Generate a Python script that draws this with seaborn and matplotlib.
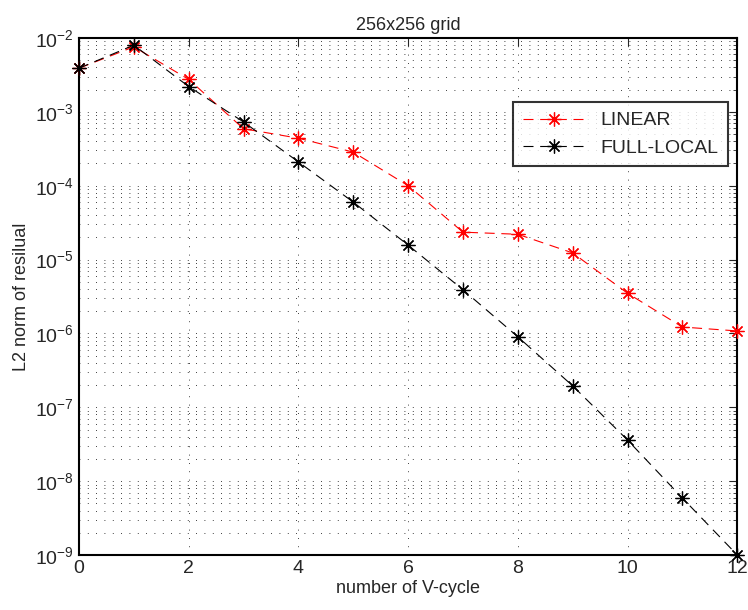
import numpy as np
import pandas as pd
import matplotlib
matplotlib.use("Agg")
import matplotlib.pyplot as plt
import matplotlib.ticker as mticker
import seaborn as sns

# ── Data ──────────────────────────────────────────────────────────────────────
cycles = list(range(13))
linear = [3.9e-3, 7.6e-3, 2.75e-3, 5.9e-4, 4.4e-4, 2.85e-4, 1.0e-4,
          2.35e-5, 2.2e-5, 1.23e-5, 3.5e-6, 1.22e-6, 1.08e-6]
full_local = [3.9e-3, 8.0e-3, 2.2e-3, 7.3e-4, 2.1e-4, 6.0e-5, 1.57e-5,
              3.9e-6, 9.0e-7, 1.95e-7, 3.6e-8, 5.9e-9, 1.0e-9]

df = pd.DataFrame({"cycle": cycles * 2,
                   "resid": linear + full_local,
                   "method": ["LINEAR"] * 13 + ["FULL-LOCAL"] * 13})

sns.set_style("white")
plt.rcParams["font.family"] = ["Liberation Sans", "DejaVu Sans"]
plt.rcParams["mathtext.fontset"] = "custom"
plt.rcParams["mathtext.rm"] = "Liberation Sans"
plt.rcParams["mathtext.it"] = "Liberation Sans"

fig = plt.figure(figsize=(7.48, 6.10), dpi=100)
ax = fig.add_axes([0.1056, 0.0902, 0.880, 0.8475])

star = (8, 2, 0)
dash = (0, (9, 6))
sns.lineplot(data=df, x="cycle", y="resid", hue="method",
             palette={"LINEAR": "red", "FULL-LOCAL": "black"},
             hue_order=["LINEAR", "FULL-LOCAL"],
             linewidth=0.8, ax=ax, zorder=3, legend=False)
for ln in ax.lines:
    ln.set_linestyle(dash)
    ln.set_marker(star)
    ln.set_markersize(10)
    ln.set_markeredgewidth(0.9)
    ln.set_markerfacecolor(ln.get_color())
    ln.set_markeredgecolor(ln.get_color())
    ln.set_clip_on(False)

ax.set_yscale("log")
ax.set_xlim(0, 12)
ax.set_ylim(1e-9, 1e-2)
ax.set_xticks(range(0, 13, 2))
ax.yaxis.set_major_locator(mticker.LogLocator(base=10, numticks=20))
ax.yaxis.set_minor_locator(mticker.LogLocator(base=10, subs=np.arange(2, 10), numticks=20))
ax.yaxis.set_minor_formatter(mticker.NullFormatter())

ax.grid(True, which="major", axis="both", linestyle=(0, (1, 9)), color="black", linewidth=0.6)
ax.grid(True, which="minor", axis="y", linestyle=(0, (1, 9)), color="black", linewidth=0.6)

ax.tick_params(which="both", direction="in", top=True, right=True, labelsize=14)
ax.tick_params(which="major", length=6)
ax.tick_params(which="minor", length=3)
for s in ax.spines.values():
    s.set_linewidth(1.5)
    s.set_color("black")

ax.set_title("256x256 grid", fontsize=13)
ax.set_xlabel("number of V-cycle", fontsize=13, labelpad=2)
ax.set_ylabel("L2 norm of resilual", fontsize=13)

handles = [plt.Line2D([0], [0], color=c, linestyle=dash, linewidth=0.8,
                      marker=star, markersize=10, markeredgewidth=0.9)
           for c in ["red", "black"]]
leg = ax.legend(handles, ["LINEAR", "FULL-LOCAL"], loc="upper right",
                bbox_to_anchor=(0.986, 0.876), borderaxespad=0, fontsize=14,
                frameon=True, fancybox=False, edgecolor="black",
                handlelength=3.2, borderpad=0.5, labelspacing=0.5)
leg.get_frame().set_linewidth(1.5)

fig.savefig("out.png", dpi=100)
